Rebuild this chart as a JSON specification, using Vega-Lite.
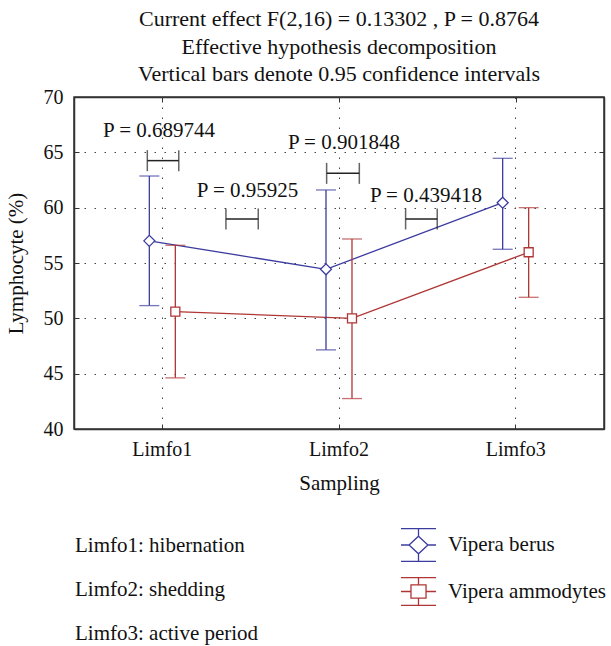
{
  "$schema": "https://vega.github.io/schema/vega-lite/v6.json",
  "width": 530,
  "height": 332,
  "autosize": {"type": "none"},
  "padding": {"left": 74, "top": 97, "right": 7, "bottom": 217},
  "background": "white",
  "title": {
    "text": ["Current effect F(2,16) = 0.13302 , P = 0.8764", "Effective hypothesis decomposition", "Vertical bars denote 0.95 confidence intervals"],
    "font": "Liberation Serif",
    "fontSize": 22,
    "fontWeight": "normal",
    "color": "#111",
    "lineHeight": 27.5,
    "offset": 1,
    "anchor": "middle"
  },
  "config": {
    "view": {"stroke": "#333", "strokeWidth": 1.5},
    "axis": {
      "labelFont": "Liberation Serif",
      "titleFont": "Liberation Serif",
      "labelFontSize": 20,
      "titleFontSize": 21,
      "titleFontWeight": "normal",
      "labelColor": "#111",
      "titleColor": "#111",
      "domainColor": "#333",
      "domainWidth": 1.5,
      "tickColor": "#333",
      "tickWidth": 1,
      "gridColor": "#444",
      "gridDash": [1.5, 8.5],
      "gridWidth": 1
    }
  },
  "datasets": {
    "means": [
      {"sampling": "Limfo1", "series": "Vipera berus", "mean": 57.0, "lower": 51.15, "upper": 62.86},
      {"sampling": "Limfo2", "series": "Vipera berus", "mean": 54.43, "lower": 47.15, "upper": 61.6},
      {"sampling": "Limfo3", "series": "Vipera berus", "mean": 60.45, "lower": 56.24, "upper": 64.46},
      {"sampling": "Limfo1", "series": "Vipera ammodytes", "mean": 50.61, "lower": 44.62, "upper": 56.6},
      {"sampling": "Limfo2", "series": "Vipera ammodytes", "mean": 50.0, "lower": 42.75, "upper": 57.17},
      {"sampling": "Limfo3", "series": "Vipera ammodytes", "mean": 55.97, "lower": 51.9, "upper": 60.0}
    ],
    "notes": [
      {"note": "Limfo1: hibernation"},
      {"note": "Limfo2: shedding"},
      {"note": "Limfo3: active period"}
    ],
    "pvals": [
      {"label": "P = 0.689744", "tx": 0.981, "ty": 66.39, "bx1": 0.915, "bx2": 1.093, "by": 64.25},
      {"label": "P = 0.95925", "tx": 1.482, "ty": 60.97, "bx1": 1.36, "bx2": 1.543, "by": 58.98},
      {"label": "P = 0.901848", "tx": 2.028, "ty": 65.28, "bx1": 1.93, "bx2": 2.115, "by": 63.1},
      {"label": "P = 0.439418", "tx": 2.492, "ty": 60.54, "bx1": 2.377, "bx2": 2.556, "by": 58.98}
    ]
  },
  "layer": [
    {
      "data": {"name": "means"},
      "encoding": {
        "x": {
          "field": "sampling",
          "type": "nominal",
          "scale": {"type": "band", "domain": ["Limfo1", "Limfo2", "Limfo3"], "paddingInner": 0, "paddingOuter": 0},
          "axis": {"title": "Sampling", "labelAngle": 0, "tickSize": -5, "labelPadding": 15, "titlePadding": 13, "grid": true}
        },
        "xOffset": {
          "field": "series",
          "type": "nominal",
          "scale": {"domain": ["Vipera berus", "Vipera ammodytes"], "range": [62.33, 114.33], "paddingInner": 0, "paddingOuter": 0}
        },
        "color": {
          "field": "series",
          "type": "nominal",
          "scale": {"range": ["#b03535", "#3c3ca0"]},
          "legend": null
        }
      },
      "layer": [
        {
          "mark": {"type": "line", "strokeWidth": 1.3},
          "encoding": {
            "y": {"field": "mean", "type": "quantitative", "scale": {"domain": [40, 70], "nice": false, "zero": false},
              "axis": {"title": "Lymphocyte (%)", "values": [40, 45, 50, 55, 60, 65, 70], "tickSize": -5, "labelPadding": 16, "titlePadding": 17, "grid": true}}
          }
        },
        {
          "mark": {"type": "rule", "strokeWidth": 1.3},
          "encoding": {
            "y": {"field": "lower", "type": "quantitative", "scale": {"domain": [40, 70], "nice": false, "zero": false}, "title": "Lymphocyte (%)"},
            "y2": {"field": "upper"}
          }
        },
        {
          "mark": {"type": "tick", "orient": "horizontal", "size": 20, "thickness": 1.3},
          "encoding": {
            "y": {"field": "upper", "type": "quantitative", "scale": {"domain": [40, 70], "nice": false, "zero": false}, "title": "Lymphocyte (%)"}
          }
        },
        {
          "mark": {"type": "tick", "orient": "horizontal", "size": 20, "thickness": 1.3},
          "encoding": {
            "y": {"field": "lower", "type": "quantitative", "scale": {"domain": [40, 70], "nice": false, "zero": false}, "title": "Lymphocyte (%)"}
          }
        },
        {
          "mark": {"type": "point", "filled": false, "fill": "white", "opacity": 1, "strokeWidth": 1.3},
          "encoding": {
            "y": {"field": "mean", "type": "quantitative", "scale": {"domain": [40, 70], "nice": false, "zero": false}, "title": "Lymphocyte (%)"},
            "shape": {"field": "series", "type": "nominal", "scale": {"range": ["square", "diamond"]}, "legend": null},
            "size": {"field": "series", "type": "nominal", "scale": {"range": [81, 121]}, "legend": null}
          }
        }
      ]
    },
    {
      "data": {"name": "means"},
      "transform": [{"filter": "datum.series === 'Vipera berus'"}],
      "mark": {"type": "point", "filled": false, "opacity": 0, "stroke": "#3c3ca0", "strokeWidth": 1.3},
      "encoding": {
        "shape": {
          "field": "series",
          "type": "nominal",
          "scale": {
            "domain": ["Vipera berus"],
            "range": ["M-1,-0.94H1M0,-0.94V-0.5M-1,0.94H1M0,0.94V0.5M-1,0H-0.54M0.54,0H1M0,-0.5L0.54,0L0,0.5L-0.54,0Z"]
          },
          "legend": {
            "orient": "none",
            "legendX": 326,
            "legendY": 429.5,
            "title": null,
            "padding": 0,
            "labelFont": "Liberation Serif",
            "labelFontSize": 21,
            "labelColor": "#111",
            "labelOffset": 11,
            "labelLimit": 300,
            "symbolSize": 1225,
            "symbolStrokeWidth": 1.3,
            "symbolStrokeColor": "#3c3ca0",
            "encode": {
              "symbols": {
                "update": {
                  "stroke": {"value": "#3c3ca0"},
                  "opacity": {"value": 1},
                  "strokeWidth": {"value": 1.3}
                }
              }
            }
          }
        }
      }
    },
    {
      "data": {"name": "means"},
      "transform": [{"filter": "datum.series === 'Vipera ammodytes'"}],
      "mark": {"type": "point", "filled": false, "opacity": 0, "stroke": "#b03535", "strokeWidth": 1.3},
      "encoding": {
        "shape": {
          "field": "series",
          "type": "nominal",
          "scale": {
            "domain": ["Vipera ammodytes"],
            "range": ["M-1,-0.79H1M0,-0.79V-0.38M-1,0.79H1M0,0.79V0.38M-1,0H-0.43M0.43,0H1M-0.43,-0.38H0.43V0.38H-0.43Z"]
          },
          "legend": {
            "orient": "none",
            "legendX": 326,
            "legendY": 476,
            "title": null,
            "padding": 0,
            "labelFont": "Liberation Serif",
            "labelFontSize": 21,
            "labelColor": "#111",
            "labelOffset": 11,
            "labelLimit": 300,
            "symbolSize": 1225,
            "symbolStrokeWidth": 1.3,
            "symbolStrokeColor": "#b03535",
            "encode": {
              "symbols": {
                "update": {
                  "stroke": {"value": "#b03535"},
                  "opacity": {"value": 1},
                  "strokeWidth": {"value": 1.3}
                }
              }
            }
          }
        }
      }
    },
    {
      "data": {"name": "notes"},
      "mark": {"type": "point", "opacity": 0},
      "encoding": {
        "strokeDash": {
          "field": "note",
          "type": "nominal",
          "legend": {
            "orient": "none",
            "legendX": -20,
            "legendY": 438.5,
            "title": null,
            "padding": 0,
            "symbolSize": 0,
            "symbolOpacity": 0,
            "symbolStrokeWidth": 0,
            "labelOffset": 0,
            "labelLimit": 400,
            "rowPadding": 22,
            "labelFont": "Liberation Serif",
            "labelFontSize": 21,
            "labelColor": "#111"
          }
        }
      }
    },
    {
      "data": {"name": "pvals"},
      "layer": [
        {
          "mark": {"type": "text", "font": "Liberation Serif", "fontSize": 21, "color": "#111", "baseline": "alphabetic", "align": "center"},
          "encoding": {
            "x": {"field": "tx", "type": "quantitative", "scale": {"domain": [0.5, 3.5], "nice": false, "zero": false},
              "axis": {"orient": "top", "values": [1, 2, 3], "labels": false, "grid": false, "title": null, "tickSize": -5}},
            "y": {"field": "ty", "type": "quantitative", "scale": {"domain": [40, 70], "nice": false, "zero": false},
              "axis": {"orient": "right", "values": [40, 45, 50, 55, 60, 65, 70], "labels": false, "grid": false, "title": null, "tickSize": -5}},
            "text": {"field": "label"}
          }
        },
        {
          "mark": {"type": "rule", "color": "#222", "strokeWidth": 1.5},
          "encoding": {
            "x": {"field": "bx1", "type": "quantitative", "scale": {"domain": [0.5, 3.5], "nice": false, "zero": false}, "title": null},
            "x2": {"field": "bx2"},
            "y": {"field": "by", "type": "quantitative", "scale": {"domain": [40, 70], "nice": false, "zero": false}, "title": null}
          }
        },
        {
          "mark": {"type": "tick", "orient": "vertical", "size": 21, "thickness": 1.5, "color": "#222"},
          "encoding": {
            "x": {"field": "bx1", "type": "quantitative", "scale": {"domain": [0.5, 3.5], "nice": false, "zero": false}, "title": null},
            "y": {"field": "by", "type": "quantitative", "scale": {"domain": [40, 70], "nice": false, "zero": false}, "title": null}
          }
        },
        {
          "mark": {"type": "tick", "orient": "vertical", "size": 21, "thickness": 1.5, "color": "#222"},
          "encoding": {
            "x": {"field": "bx2", "type": "quantitative", "scale": {"domain": [0.5, 3.5], "nice": false, "zero": false}, "title": null},
            "y": {"field": "by", "type": "quantitative", "scale": {"domain": [40, 70], "nice": false, "zero": false}, "title": null}
          }
        }
      ]
    }
  ],
  "resolve": {
    "scale": {"x": "independent", "y": "independent", "shape": "independent"},
    "axis": {"x": "independent", "y": "independent"}
  }
}
